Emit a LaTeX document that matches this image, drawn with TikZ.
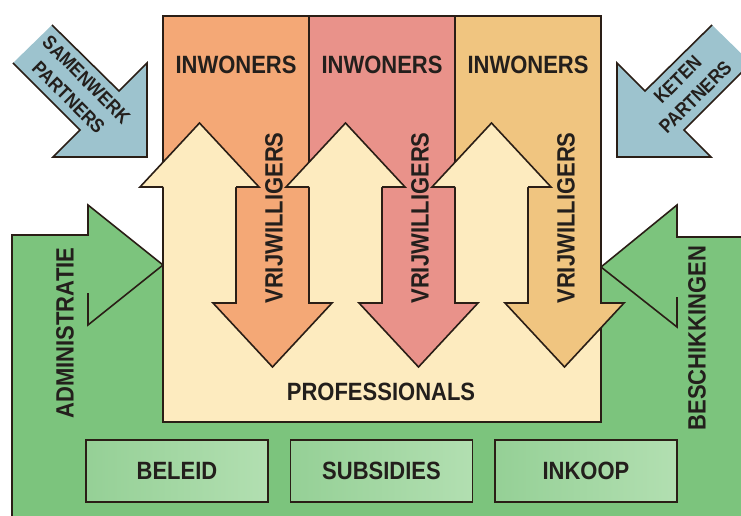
\documentclass[tikz,border=0pt]{standalone}
\usepackage{fontspec}
\setmainfont{Liberation Sans}[FakeStretch=0.88]
\definecolor{edgec}{HTML}{2A1E16}
\definecolor{inkc}{HTML}{231F1C}
\definecolor{greenc}{HTML}{7CC47D}
\definecolor{boxl}{HTML}{95D096}
\definecolor{boxr}{HTML}{B2DFB1}
\definecolor{bluec}{HTML}{9DC3CE}
\definecolor{palec}{HTML}{FDEBBF}
\definecolor{orangec}{HTML}{F4A876}
\definecolor{redc}{HTML}{E9928A}
\definecolor{tanc}{HTML}{F0C580}
\begin{document}
\begin{tikzpicture}[x=1pt,y=-1pt,line width=1.6pt,line join=miter,
    lbl/.style={font=\bfseries\fontsize{25}{27}\selectfont,text=inkc,inner sep=0pt},
    small/.style={font=\bfseries\fontsize{19.5}{25}\selectfont,text=inkc,inner sep=0pt,align=center},
    subbox/.style={lbl,draw=edgec,left color=boxl,right color=boxr,minimum width=182pt,minimum height=62pt}]
    \useasboundingbox (0,0) rectangle (741,516);
    \clip (0,0) rectangle (741,516);
    % green background with the two side arrows
    \fill[greenc] (12,530) -- (12,235) -- (88,235) -- (88,205) -- (163,265) -- (601,267)
        -- (677,205) -- (677,237) -- (750,237) -- (750,530) -- cycle;
    \draw[edgec] (12,530) -- (12,235) -- (88,235) -- (88,205) -- (163,265);
    \draw[edgec] (88,293) -- (88,325) -- (163,265);
    \draw[edgec] (750,237) -- (677,237) -- (677,205) -- (601,267);
    \draw[edgec] (677,297) -- (677,327) -- (601,267);
    % blue partner arrows
    \filldraw[fill=bluec,draw=edgec] (52,25) -- (119,91) -- (147,63) -- (147,157) -- (53,157) -- (80,130) -- (13,63);
    \filldraw[fill=bluec,draw=edgec] (712,25) -- (645,91) -- (617,63) -- (617,157) -- (711,157) -- (684,130) -- (751,63);
    % main box and columns
    \fill[palec] (163,16) rectangle (601,422);
    \fill[orangec] (163,16) rectangle (309,187);
    \fill[redc] (309,16) rectangle (455,187);
    \fill[tanc] (455,16) rectangle (601,187);
    \draw[edgec] (309,16) -- (309,187);
    \draw[edgec] (455,16) -- (455,187);
    \draw[edgec] (163,16) rectangle (601,422);
    % down arrows
    \filldraw[fill=orangec,draw=edgec] (236,187) -- (236,303) -- (213,303) -- (272.5,367) -- (332,303) -- (309,303) -- (309,187);
    \filldraw[fill=redc,draw=edgec] (382,187) -- (382,303) -- (359,303) -- (418.5,367) -- (478,303) -- (455,303) -- (455,187);
    \filldraw[fill=tanc,draw=edgec] (528,187) -- (528,303) -- (505,303) -- (564.5,367) -- (624,303) -- (601,303) -- (601,187);
    % up arrow heads
    \filldraw[fill=palec,draw=edgec] (163,187) -- (140,187) -- (199.5,123) -- (259,187) -- (236,187);
    \filldraw[fill=palec,draw=edgec] (309,187) -- (286,187) -- (345.5,123) -- (405,187) -- (382,187);
    \filldraw[fill=palec,draw=edgec] (455,187) -- (432,187) -- (491.5,123) -- (551,187) -- (528,187);
    % labels
    \node[lbl] (inw1) at (236,65) {INWONERS};
    \node[lbl] (inw2) at (382,65) {INWONERS};
    \node[lbl] (inw3) at (528,65) {INWONERS};
    \node[lbl,rotate=90] (vrij1) at (274,218) {VRIJWILLIGERS};
    \node[lbl,rotate=90] (vrij2) at (420,218) {VRIJWILLIGERS};
    \node[lbl,rotate=90] (vrij3) at (566,218) {VRIJWILLIGERS};
    \node[lbl] (prof) at (381,392) {PROFESSIONALS};
    \node[lbl,rotate=90] (admin) at (65,333) {ADMINISTRATIE};
    \node[lbl,rotate=90] (besch) at (697,338) {BESCHIKKINGEN};
    \node[small,rotate=-45] (samen) at (77.5,88.5) {SAMENWERK\\PARTNERS};
    \node[small,rotate=45] (keten) at (686.5,88.5) {KETEN\\PARTNERS};
    \node[subbox] (beleid) at (177,471) {BELEID};
    \node[subbox] (subs) at (381.5,471) {SUBSIDIES};
    \node[subbox] (inkoop) at (586,471) {INKOOP};
\end{tikzpicture}
\end{document}
